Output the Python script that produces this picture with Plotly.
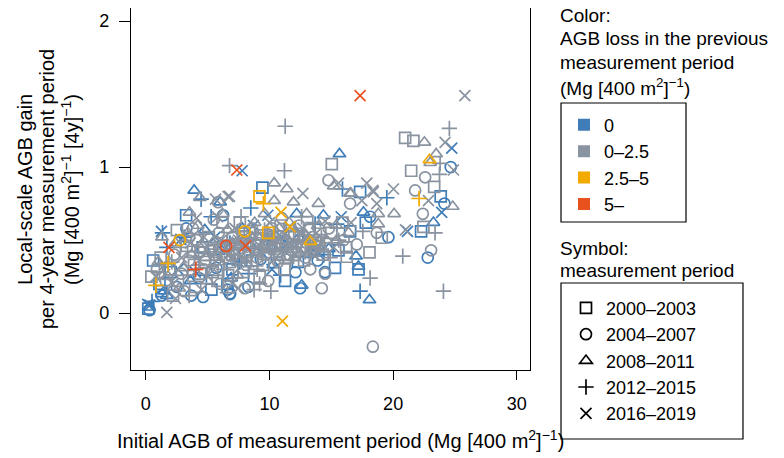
import plotly.graph_objects as go

# loss classes in the previous period
loss_labels = ["0", "0\u20132.5", "2.5\u20135", "5\u2013"]
loss_colors = ["#3F7DB8", "#8A93A0", "#F2A900", "#E8501E"]

# measurement periods
period_labels = ["2000\u20132003", "2004\u20132007", "2008\u20132011", "2012\u20132015", "2016\u20132019"]
period_symbols = ["square-open", "circle-open", "triangle-up-open", "cross-thin-open", "x-thin-open"]

# 2000-2003 (squares)
sq_blue_x = [9.43, 17.33, 23.85, 3.26, 22.26, 16.52, 17.79, 15.58, 17.2, 0.59, 1.26, 6.6, 11.26,
             0.2, 1.1, 2.0, 4.6, 7.0, 8.6, 10.6, 12.3, 13.6, 15.3, 5.3]
sq_blue_y = [0.86, 0.83, 0.80, 0.67, 0.56, 0.56, 0.62, 0.43, 0.30, 0.36, 0.15, 0.20, 0.22,
             0.03, 0.20, 0.28, 0.45, 0.30, 0.36, 0.40, 0.35, 0.43, 0.31, 0.16]
sq_gray_x = [20.97, 21.64, 15.04, 21.46, 23.32, 22.45, 19.08, 18.09, 16.25, 2.51, 3.82, 0.45, 6.65,
             1.2, 1.9, 2.6, 3.3, 3.9, 4.4, 5.1, 5.6, 6.2, 6.8, 7.3, 7.9, 8.4, 8.9, 9.5, 10.0, 10.4,
             10.9, 11.5, 12.0, 12.6, 13.2, 13.7, 14.3, 15.0, 15.9, 2.2, 4.0, 5.8, 9.2, 7.6, 11.2, 16.2,
             4.8, 6.0, 7.0, 8.2, 9.8, 11.0, 12.4, 5.4, 8.0, 9.0, 10.8, 12.8, 14.0]
sq_gray_y = [1.20, 1.18, 1.02, 0.975, 0.865, 0.59, 0.516, 0.416, 0.386, 0.568, 0.42, 0.25, 0.26,
             0.38, 0.30, 0.22, 0.46, 0.33, 0.27, 0.52, 0.40, 0.62, 0.35, 0.47, 0.28, 0.55, 0.42, 0.33, 0.50, 0.44,
             0.60, 0.38, 0.52, 0.45, 0.57, 0.48, 0.40, 0.55, 0.62, 0.12, 0.18, 0.22, 0.25, 0.62, 0.30, 0.45,
             0.35, 0.45, 0.40, 0.48, 0.45, 0.47, 0.52, 0.28, 0.52, 0.36, 0.40, 0.36, 0.50]
sq_orange_x = [9.19, 9.9]
sq_orange_y = [0.80, 0.55]
sq_red_x = []
sq_red_y = []

# 2004-2007 (circles)
ci_blue_x = [24.66, 24.15, 18.14, 19.62, 22.8, 12.48, 6.82, 3.67, 6.25, 3.28, 4.63, 6.79, 8.29, 14.49,
             0.3, 1.3, 2.5, 4.3, 5.7, 7.2, 9.3, 10.8, 12.1, 13.9, 6.6]
ci_blue_y = [1.00, 0.75, 0.66, 0.52, 0.38, 0.17, 0.13, 0.12, 0.67, 0.58, 0.11, 0.135, 0.18, 0.28,
             0.02, 0.12, 0.18, 0.24, 0.31, 0.40, 0.37, 0.47, 0.28, 0.36, 0.16]
ci_gray_x = [14.77, 21.78, 22.59, 22.4, 16.52, 23.07, 14.23, 14.5, 18.68, 17.06, 18.36, 5.85, 3.5,
             0.9, 1.6, 2.3, 2.9, 3.5, 4.1, 4.7, 5.3, 5.9, 6.4, 7.0, 7.5, 8.1, 8.6, 9.1, 9.7, 10.2,
             10.7, 11.3, 11.8, 12.4, 12.9, 13.5, 14.1, 14.8, 3.1, 6.0, 8.0, 9.9, 5.5, 11.0, 13.3, 16.0, 3.8,
             4.4, 5.6, 6.8, 7.8, 9.0, 10.4, 12.0, 13.0, 7.3, 8.9, 10.0, 11.6, 13.7]
ci_gray_y = [0.91, 0.84, 0.93, 0.68, 0.75, 0.43, 0.17, 0.27, 0.55, 0.47, -0.23, 0.76, 0.52,
             0.30, 0.22, 0.40, 0.27, 0.36, 0.50, 0.30, 0.43, 0.55, 0.38, 0.52, 0.44, 0.33, 0.58, 0.48, 0.40, 0.58,
             0.35, 0.50, 0.43, 0.60, 0.38, 0.52, 0.46, 0.58, 0.15, 0.20, 0.17, 0.22, 0.64, 0.65, 0.30, 0.50, 0.58,
             0.42, 0.36, 0.46, 0.50, 0.38, 0.46, 0.54, 0.45, 0.36, 0.44, 0.52, 0.40, 0.42]
ci_orange_x = [2.75, 8.0]
ci_orange_y = [0.50, 0.56]
ci_red_x = [6.5]
ci_red_y = [0.46]

# 2008-2011 (triangles)
tr_blue_x = [15.66, 3.91, 6.01, 17.6, 12.61, 18.09, 17.2, 17.0, 23.26, 12.2, 14.36, 4.77, 1.7,
             0.25, 1.5, 3.6, 5.9, 8.5, 10.3, 11.9, 13.1, 14.8, 7.8, 6.9]
tr_blue_y = [1.09, 0.84, 0.76, 0.69, 0.19, 0.09, 0.32, 0.39, 0.62, 0.68, 0.67, 0.57, 0.12,
             0.04, 0.15, 0.22, 0.42, 0.46, 0.33, 0.58, 0.40, 0.44, 0.58, 0.24]
tr_gray_x = [22.53, 23.48, 23.0, 10.38, 11.4, 15.2, 16.58, 24.82, 10.38, 11.94, 13.96, 18.8, 20.08,
             3.53, 15.44, 4.37, 1.3, 18.8, 16.52,
             1.0, 1.8, 2.4, 3.0, 3.7, 4.2, 4.8, 5.4, 6.0, 6.6, 7.1, 7.7, 8.2, 8.8, 9.4, 9.9, 10.5,
             11.1, 11.6, 12.2, 12.8, 13.4, 14.0, 14.6, 15.4, 2.7, 5.0, 7.4, 6.2, 9.6, 13.0, 16.4, 3.4,
             4.5, 5.7, 7.0, 8.0, 9.1, 10.2, 11.4, 12.5, 7.6, 8.6, 10.8, 12.0, 14.2]
tr_gray_y = [1.17, 1.09, 1.03, 0.89, 0.85, 0.87, 0.82, 0.73, 0.77, 0.76, 0.75, 0.68, 0.68,
             0.69, 0.50, 0.79, 0.52, 0.61, 0.82,
             0.35, 0.25, 0.48, 0.31, 0.40, 0.60, 0.38, 0.48, 0.35, 0.57, 0.42, 0.50, 0.40, 0.62, 0.46, 0.55, 0.52,
             0.44, 0.62, 0.47, 0.55, 0.44, 0.60, 0.50, 0.60, 0.17, 0.22, 0.26, 0.68, 0.68, 0.68, 0.55, 0.55,
             0.47, 0.40, 0.48, 0.45, 0.52, 0.45, 0.50, 0.40, 0.36, 0.52, 0.58, 0.38, 0.44]
tr_orange_x = [22.94, 13.3]
tr_orange_y = [1.05, 0.49]
tr_red_x = []
tr_red_y = []

# 2012-2015 (plus)
pl_blue_x = [15.9, 19.49, 8.49, 4.47, 5.28, 1.35, 17.33, 15.44, 13.69,
             0.5, 1.7, 3.1, 4.9, 6.8, 8.3, 9.8, 11.4, 12.7, 14.4, 7.6, 10.9]
pl_blue_y = [0.85, 0.79, 0.72, 0.78, 0.66, 0.55, 0.15, 0.61, 0.61,
             0.08, 0.45, 0.52, 0.26, 0.48, 0.27, 0.50, 0.45, 0.53, 0.40, 0.35, 0.26]
pl_gray_x = [11.27, 24.55, 23.8, 6.77, 11.21, 23.75, 17.55, 23.39, 24.07, 18.14, 20.78, 10.11, 8.76,
             1.1, 2.1, 2.8, 3.4, 4.0, 4.6, 5.2, 5.8, 6.3, 6.9, 7.4, 8.0, 8.5, 9.0, 9.6, 10.1, 10.6,
             11.2, 11.7, 12.3, 12.9, 13.5, 14.2, 14.9, 6.6, 3.5, 9.2, 7.7, 12.6, 15.6,
             4.3, 5.5, 6.6, 7.9, 9.3, 10.4, 11.9, 13.1, 7.1, 8.8, 10.2, 12.1, 13.8]
pl_gray_y = [1.28, 1.265, 1.025, 1.01, 0.975, 0.95, 0.56, 0.55, 0.15, 0.24, 0.39, 0.15, 0.16,
             0.28, 0.35, 0.45, 0.26, 0.42, 0.54, 0.36, 0.47, 0.30, 0.44, 0.56, 0.38, 0.50, 0.30, 0.57, 0.42, 0.48,
             0.56, 0.36, 0.50, 0.42, 0.62, 0.52, 0.38, 0.14, 0.12, 0.20, 0.66, 0.66, 0.50,
             0.33, 0.42, 0.50, 0.45, 0.45, 0.38, 0.44, 0.50, 0.40, 0.55, 0.52, 0.58, 0.46]
pl_orange_x = [22.1, 9.51, 0.81, 1.8]
pl_orange_y = [0.785, 0.75, 0.19, 0.34]
pl_red_x = [4.04]
pl_red_y = [0.30]

# 2016-2019 (x)
xx_blue_x = [24.74, 7.79, 23.93, 2.83, 9.87, 21.16, 1.26, 10.99, 13.55, 0.32, 15.8,
             0.15, 2.6, 4.0, 5.6, 7.4, 9.0, 10.2, 11.8, 13.0, 14.0, 6.4, 8.7]
xx_blue_y = [1.13, 0.975, 0.69, 0.505, 0.67, 0.56, 0.56, 0.52, 0.43, 0.055, 0.66,
             0.06, 0.30, 0.28, 0.52, 0.36, 0.45, 0.30, 0.50, 0.50, 0.42, 0.44, 0.60]
xx_gray_x = [25.8, 24.2, 24.88, 15.58, 17.87, 12.7, 18.36, 20.03, 22.86, 6.77, 17.47, 18.68, 1.7,
             7.49, 21.0, 5.63, 6.65, 4.09, 18.4,
             0.8, 1.5, 2.2, 2.9, 3.6, 4.3, 4.9, 5.5, 6.1, 6.7, 7.2, 7.8, 8.3, 8.9, 9.4, 10.0, 10.5,
             11.0, 11.6, 12.1, 12.7, 13.3, 13.8, 14.5, 15.2, 4.5, 2.4, 7.0, 5.8, 16.6,
             4.7, 5.9, 7.5, 8.6, 9.7, 10.8, 12.4, 13.6, 7.9, 9.2, 11.3, 12.9, 14.1]
xx_gray_y = [1.49, 1.17, 0.98, 0.89, 0.89, 0.82, 0.84, 0.85, 0.77, 0.80, 0.77, 0.75, 0.005,
             0.17, 0.57, 0.78, 0.80, 0.65, 0.83,
             0.25, 0.33, 0.20, 0.38, 0.48, 0.36, 0.44, 0.30, 0.50, 0.40, 0.58, 0.45, 0.35, 0.52, 0.40, 0.62, 0.38,
             0.55, 0.48, 0.40, 0.58, 0.47, 0.55, 0.63, 0.45, 0.16, 0.10, 0.20, 0.66, 0.62,
             0.52, 0.38, 0.50, 0.42, 0.50, 0.44, 0.48, 0.40, 0.52, 0.46, 0.42, 0.52, 0.48]
xx_orange_x = [10.94, 11.67, 11.05]
xx_orange_y = [0.69, 0.59, -0.055]
xx_red_x = [17.33, 7.36, 1.87, 8.06]
xx_red_y = [1.49, 0.98, 0.45, 0.46]

# [period][loss class] -> (x, y)
series = [
    [(sq_blue_x, sq_blue_y), (sq_gray_x, sq_gray_y), (sq_orange_x, sq_orange_y), (sq_red_x, sq_red_y)],
    [(ci_blue_x, ci_blue_y), (ci_gray_x, ci_gray_y), (ci_orange_x, ci_orange_y), (ci_red_x, ci_red_y)],
    [(tr_blue_x, tr_blue_y), (tr_gray_x, tr_gray_y), (tr_orange_x, tr_orange_y), (tr_red_x, tr_red_y)],
    [(pl_blue_x, pl_blue_y), (pl_gray_x, pl_gray_y), (pl_orange_x, pl_orange_y), (pl_red_x, pl_red_y)],
    [(xx_blue_x, xx_blue_y), (xx_gray_x, xx_gray_y), (xx_orange_x, xx_orange_y), (xx_red_x, xx_red_y)],
]

font_family = "Liberation Sans, Arial, sans-serif"
fig = go.Figure()

# data points, drawn colour by colour so orange/red end up on top
for c in range(4):
    for p in range(5):
        xs, ys = series[p][c]
        if not xs:
            continue
        fig.add_trace(go.Scatter(
            x=xs, y=ys, mode="markers", showlegend=False, hoverinfo="skip",
            marker=dict(symbol=period_symbols[p], size=11, color=loss_colors[c],
                        line=dict(width=1.7, color=loss_colors[c])),
        ))

# legend entries: colours
for c in range(4):
    fig.add_trace(go.Scatter(
        x=[None], y=[None], mode="markers", name=loss_labels[c], legend="legend",
        marker=dict(symbol="square", size=12, color=loss_colors[c]),
    ))

# legend entries: symbols
for p in range(5):
    fig.add_trace(go.Scatter(
        x=[None], y=[None], mode="markers", name=period_labels[p], legend="legend2",
        marker=dict(symbol=period_symbols[p], size=11, color="black",
                    line=dict(width=1.7, color="black")),
    ))


def txt(x, y, s, size=20, angle=0, xanchor="left"):
    return dict(xref="paper", yref="paper", x=x, y=y, xanchor=xanchor, yanchor="middle",
                textangle=angle, showarrow=False, text=s, font=dict(size=size))


sup_unit = "(Mg [400 m<sup>2</sup>]<sup>\u22121</sup>)"

annotations = [
    # y axis title, one line each
    txt(-0.2657, 0.5, "Local-scale AGB gain", angle=-90, xanchor="center"),
    txt(-0.2105, 0.5, "per 4-year measurement period", angle=-90, xanchor="center"),
    txt(-0.1529, 0.5, "(Mg [400 m<sup>2</sup>]<sup>\u22121</sup> [4y]<sup>\u22121</sup>)",
        angle=-90, xanchor="center"),
    # x axis title
    txt(0.524, -0.193, "Initial AGB of measurement period " + sup_unit, xanchor="center"),
    # legend headings
    txt(1.0702, 0.9790, "Color:", size=19),
    txt(1.0702, 0.9144, "AGB loss in the previous", size=19),
    txt(1.0702, 0.8481, "measurement period", size=19),
    txt(1.0702, 0.7818, sup_unit, size=19),
    txt(1.0702, 0.3370, "Symbol:", size=19),
    txt(1.0702, 0.2762, "measurement period", size=19),
]

# the page body adds 8px around the figure, so the figure is 8px smaller
fig.update_layout(
    width=776, height=450,
    margin=dict(l=123, r=254, t=0, b=88),
    paper_bgcolor="white", plot_bgcolor="white",
    font=dict(family=font_family, size=18, color="black"),
    xaxis=dict(range=[-1.2, 31.07], tickvals=[0, 10, 20, 30], ticks="outside", ticklen=9,
               tickcolor="black", showline=True, mirror=True, linecolor="black", linewidth=1.2,
               showgrid=False, zeroline=False, ticklabelstandoff=8),
    yaxis=dict(range=[-0.39, 2.09], tickvals=[0, 1, 2], ticks="outside", ticklen=11,
               tickcolor="black", showline=True, mirror=True, linecolor="black", linewidth=1.2,
               showgrid=False, zeroline=False, ticklabelstandoff=6),
    legend=dict(x=1.0852, y=0.7276, xanchor="left", yanchor="top", bgcolor="rgba(0,0,0,0)",
                borderwidth=0, font=dict(size=18)),
    legend2=dict(x=1.0902, y=0.2221, xanchor="left", yanchor="top", bgcolor="rgba(0,0,0,0)",
                 borderwidth=0, font=dict(size=18)),
    shapes=[
        dict(type="rect", xref="paper", yref="paper", x0=1.0777, x1=1.391, y0=0.4088, y1=0.7376,
             line=dict(color="black", width=1.2)),
        dict(type="rect", xref="paper", yref="paper", x0=1.0777, x1=1.5338, y0=-0.1906, y1=0.2403,
             line=dict(color="black", width=1.2)),
    ],
    annotations=annotations,
)

fig.write_html("out.html")
